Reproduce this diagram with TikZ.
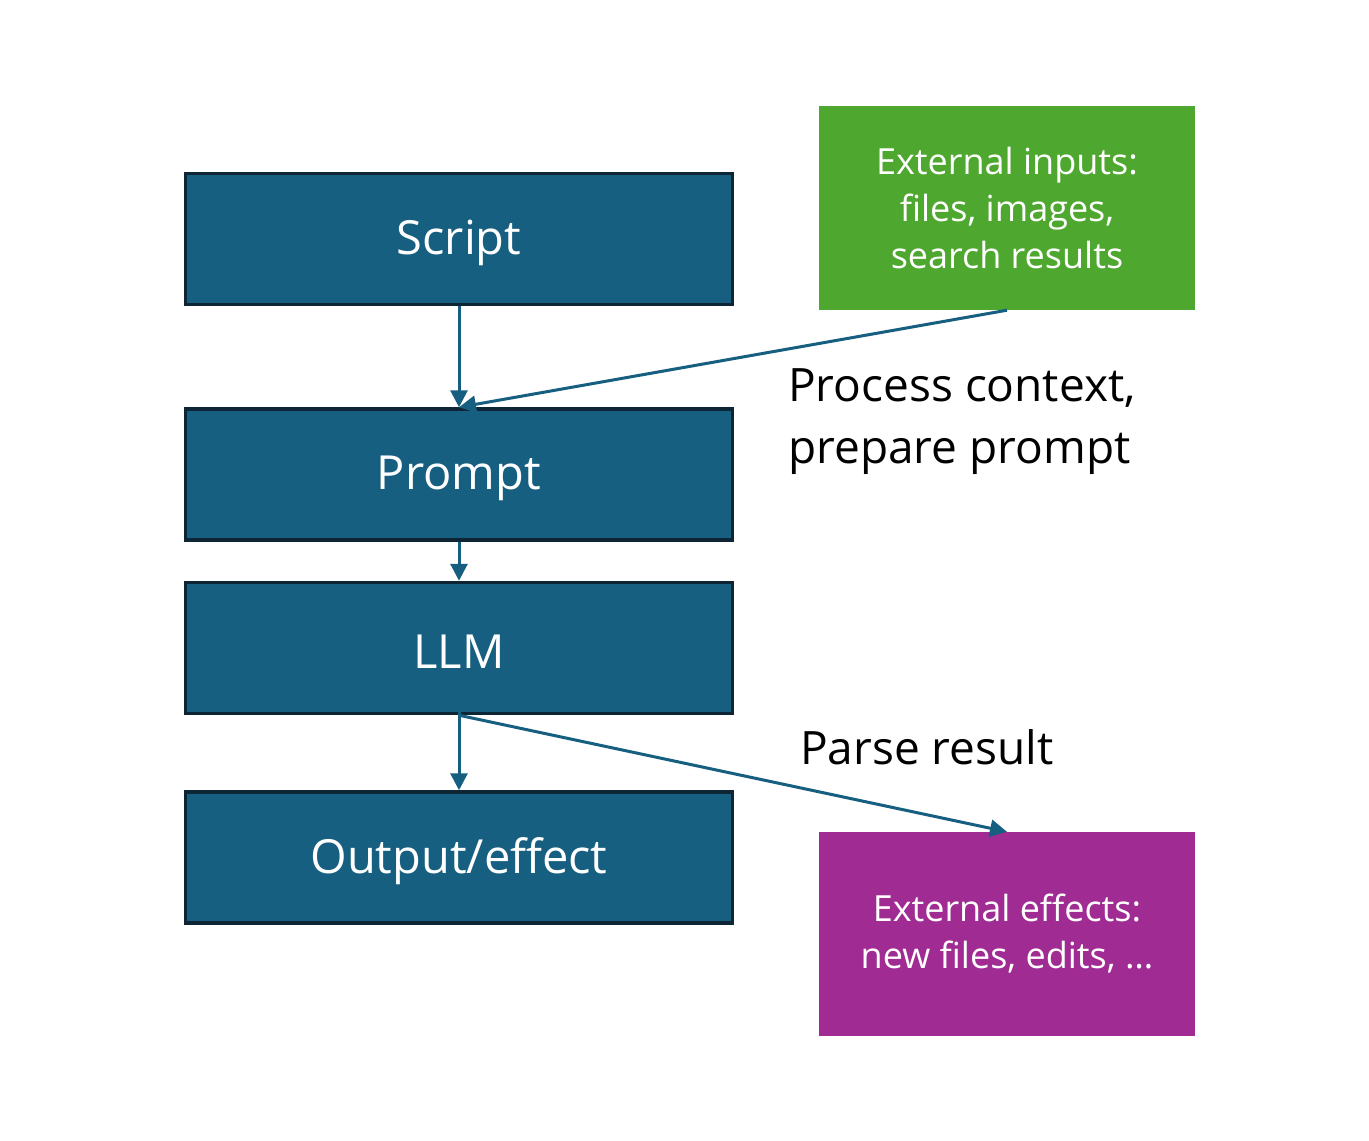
\documentclass[tikz,border=0pt]{standalone}
\usepackage{fontspec}
\setmainfont{Open Sans}
\usetikzlibrary{arrows.meta}
\definecolor{boxblue}{RGB}{23,95,129}
\definecolor{boxedge}{RGB}{14,37,53}
\definecolor{ingreen}{RGB}{78,167,46}
\definecolor{outpurple}{RGB}{160,43,147}
\tikzset{
  stepbox/.style={draw=boxedge, line width=3.5pt, fill=boxblue, text=white,
    minimum width=547pt, minimum height=131pt, inner sep=0pt, font=\fontsize{47}{56}\selectfont},
  extbox/.style={draw=none, text=white, minimum width=376pt, minimum height=204pt,
    inner sep=0pt, align=center, font=\fontsize{36}{47}\selectfont},
  conn/.style={draw=boxblue, line width=3pt, -{Triangle[length=17pt,width=17pt]}},
  lbl/.style={anchor=north west, align=left, inner sep=0pt, font=\fontsize{46}{62}\selectfont}
}
\begin{document}
\begin{tikzpicture}[x=1pt,y=-1pt]
\useasboundingbox[fill=white] (0,0) rectangle (1369,1141);
\node[stepbox] (script) at (459,239) {};
\node[stepbox] (prompt) at (459,474.5) {};
\node[stepbox] (llm) at (459,648) {};
\node[stepbox] (output) at (459,857.5) {};
\node[text=white, font=\fontsize{47}{56}\selectfont, inner sep=0pt] (scriptt) at (459,243) {Script};
\node[text=white, font=\fontsize{47}{56}\selectfont, inner sep=0pt] (promptt) at (459,478) {Prompt};
\node[text=white, font=\fontsize{47}{56}\selectfont, inner sep=0pt] (llmt) at (459,652) {LLM};
\node[text=white, font=\fontsize{47}{56}\selectfont, inner sep=0pt] (outputt) at (459,861) {Output/effect};
\node[extbox, fill=ingreen] (inputs) at (1007,208) {External inputs:\\files, images,\\search results};
\node[extbox, fill=outpurple] (effects) at (1007,934) {External effects:\\new files, edits, \dots};
\draw[conn] (script.south) -- (prompt.north);
\draw[conn] (inputs.south) -- (prompt.north);
\draw[conn] (prompt.south) -- (llm.north);
\draw[conn] ([yshift=4pt]llm.south) -- (output.north);
\draw[conn] (llm.south) -- (effects.north);
\node[lbl] (proc) at (788,368) {Process context,\\prepare prompt};
\node[lbl] (parse) at (800,729) {Parse result};
\end{tikzpicture}
\end{document}
